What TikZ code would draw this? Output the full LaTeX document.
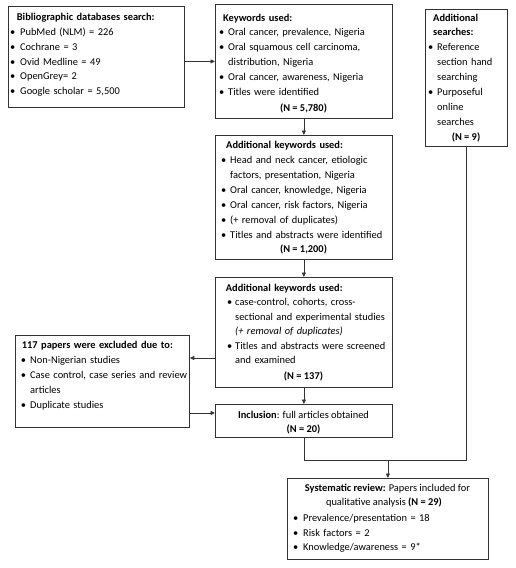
\documentclass[tikz,border=0pt]{standalone}
\usepackage{fontspec}
\setmainfont{Carlito}
\usetikzlibrary{arrows.meta}
\newcommand\mybul[1]{\makebox[#1][l]{\textbullet}}
\newcommand\myind[1]{\hspace*{#1}}
\begin{document}
\begin{tikzpicture}[x=1pt,y=-1pt,
  box/.style={draw=black!80, line width=0.8pt, anchor=north west, inner sep=0pt},
  txt/.style={anchor=base west, inner sep=0pt, align=left, text width=#1, font=\fontsize{10.4}{14.9}\selectfont},
  ctr/.style={anchor=base, inner sep=0pt, font=\fontsize{10.4}{14.9}\selectfont},
  arr/.style={draw=black!80, line width=0.8pt, -{Triangle[length=4.5pt,width=4pt]}},
  ln/.style={draw=black!80, line width=0.8pt}]
\useasboundingbox (0,0) rectangle (515,568);
% boxes
\node[box, minimum width=176pt, minimum height=101pt] (b1) at (8,6) {};
\node[box, minimum width=177pt, minimum height=114pt] (b2) at (215,4) {};
\node[box, minimum width=177pt, minimum height=124pt] (b3) at (215,135) {};
\node[box, minimum width=177pt, minimum height=110pt] (b4) at (215,277) {};
\node[box, minimum width=177pt, minimum height=33pt] (b5) at (215,404) {};
\node[box, minimum width=82pt, minimum height=137pt] (b6) at (425,9) {};
\node[box, minimum width=174pt, minimum height=92pt] (b7) at (15,335) {};
\node[box, minimum width=201pt, minimum height=81pt] (b8) at (287,478) {};
% texts
\node[txt=170pt] (t1) at (10,20.3) {\myind{6.7pt}\textbf{Bibliographic databases search:}\\
\mybul{10pt}PubMed (NLM) = 226\\
\mybul{10pt}Cochrane = 3\\
\mybul{10pt}Ovid Medline = 49\\
\mybul{10pt}OpenGrey= 2\\
\mybul{10pt}Google scholar = 5,500};
\node[txt=170pt, font=\fontsize{10.4}{14.8}\selectfont] (t2) at (219,21) {\myind{4pt}\textbf{Keywords used:}\\
\mybul{9pt}Oral cancer, prevalence, Nigeria\\
\mybul{9pt}Oral squamous cell carcinoma,\\
\myind{9pt}distribution, Nigeria\\
\mybul{9pt}Oral cancer, awareness, Nigeria\\
\mybul{9pt}Titles were identified};
\node[ctr] (n2) at (303.5,111) {\textbf{(N = 5,780)}};
\node[txt=170pt, font=\fontsize{10.4}{15}\selectfont] (t3) at (221,148) {\myind{5pt}\textbf{Additional keywords used:}\\
\mybul{9pt}Head and neck cancer, etiologic\\
\myind{9pt}factors, presentation, Nigeria\\
\mybul{9pt}Oral cancer, knowledge, Nigeria\\
\mybul{9pt}Oral cancer, risk factors, Nigeria\\
\mybul{9pt}(+ removal of duplicates)\\
\mybul{9pt}Titles and abstracts were identified};
\node[ctr] (n3) at (303.5,252.5) {\textbf{(N = 1,200)}};
\node[txt=170pt, font=\fontsize{10.4}{14.5}\selectfont] (t4) at (227,291.3) {\myind{-1.3pt}\textbf{Additional keywords used:}\\
\mybul{8pt}case-control, cohorts, cross-\\
\myind{8pt}sectional and experimental studies\\
\myind{8pt}\textit{(+ removal of duplicates)}\\
\mybul{8pt}Titles and abstracts were screened\\
\myind{8pt}and examined};
\node[ctr] (n4) at (303.5,379.7) {\textbf{(N = 137)}};
\node[ctr] (t5) at (303.5,418) {\textbf{Inclusion}: full articles obtained};
\node[ctr] (n5) at (303.5,432) {\textbf{(N = 20)}};
\node[txt=80pt, font=\fontsize{10.4}{14.9}\selectfont] (t6) at (428,21) {\myind{5pt}\textbf{Additional}\\
\myind{5pt}\textbf{searches:}\\
\mybul{9pt}Reference\\
\myind{9pt}section hand\\
\myind{9pt}searching\\
\mybul{9pt}Purposeful\\
\myind{9pt}online\\
\myind{9pt}searches};
\node[ctr] (n6) at (466,140) {\textbf{(N = 9)}};
\node[txt=170pt, font=\fontsize{10.4}{14.9}\selectfont] (t7) at (20.7,348.7) {\myind{1pt}\textbf{117 papers were excluded due to:}\\
\mybul{9.3pt}Non-Nigerian studies\\
\mybul{9.3pt}Case control, case series and review\\
\myind{9.3pt}articles\\
\mybul{9.3pt}Duplicate studies};
\node[ctr] (t8a) at (387.5,491.3) {\textbf{Systematic review:} Papers included for};
\node[ctr] (t8b) at (384,505.7) {qualitative analysis \textbf{(N = 29)}};
\node[txt=190pt, font=\fontsize{10.4}{14.7}\selectfont] (t8) at (293,521.3) {\mybul{10pt}Prevalence/presentation = 18\\
\mybul{10pt}Risk factors = 2\\
\mybul{10pt}Knowledge/awareness = 9*};
% connectors
\draw[arr] (b1.east |- b2.west) -- (b2.west);
\draw[arr] (b2.south) -- (b3.north);
\draw[arr] (b3.south) -- (b4.north);
\draw[arr] (b4.south) -- (b5.north);
\coordinate (e1) at (0,358);
\coordinate (e2) at (0,413);
\coordinate (j) at (0,460);
\draw[arr] (b4.west |- e1) -- (b7.east |- e1);
\draw[arr] (b7.east |- e2) -- (b5.west |- e2);
\draw[ln] (b5.south) -- (b5.south |- j) -- (b6.south |- j) -- (b6.south);
\draw[arr] (b8.north |- j) -- (b8.north);
\end{tikzpicture}
\end{document}
